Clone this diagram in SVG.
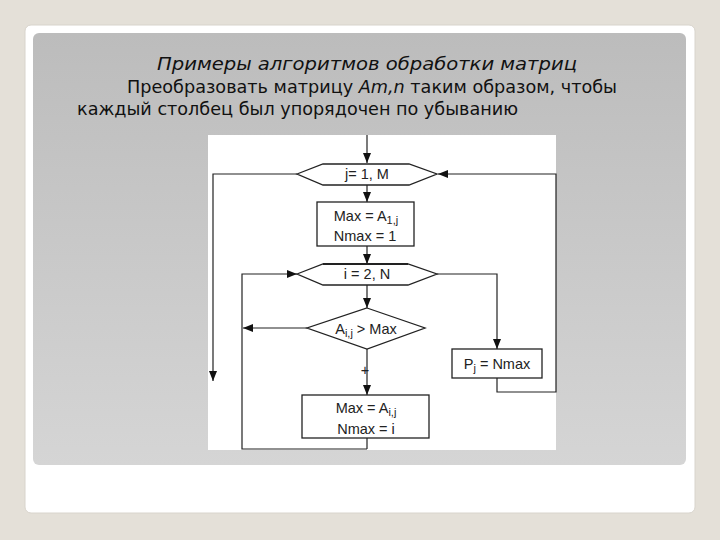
<svg xmlns="http://www.w3.org/2000/svg" width="720" height="540" viewBox="0 0 720 540">
<defs>
<linearGradient id="panel" x1="0" y1="0" x2="0" y2="1">
<stop offset="0" stop-color="#bcbcbc"/>
<stop offset="1" stop-color="#d5d5d5"/>
</linearGradient>
<marker id="arr" viewBox="0 0 10 10" refX="10" refY="5" markerWidth="10" markerHeight="10" markerUnits="userSpaceOnUse" orient="auto">
<path d="M0,1 L10,5 L0,9 Z" fill="#111"/>
</marker>
<style>
.shape{fill:#fff;stroke:#222;stroke-width:1.3}
.ln{fill:none;stroke:#222;stroke-width:1.2}
.t{font-family:"Liberation Sans",Arial,sans-serif;font-size:14.5px;fill:#222;text-anchor:middle}
.s{font-size:11px;fill:#222}
.h{font-family:"DejaVu Sans Condensed","DejaVu Sans",sans-serif;font-size:17px;fill:#111}
</style>
</defs>
<rect width="720" height="540" fill="#e4e0d8"/>
<rect x="25" y="25" width="670" height="488" rx="6" fill="#ffffff" stroke="#d8d4cc"/>
<rect x="33" y="33" width="653" height="432" rx="6" fill="url(#panel)"/>
<text class="h" x="157" y="70" font-style="italic" textLength="420" lengthAdjust="spacingAndGlyphs">Примеры алгоритмов обработки матриц</text>
<text class="h" x="127" y="93" textLength="490" lengthAdjust="spacingAndGlyphs">Преобразовать матрицу <tspan font-style="italic">Am,n</tspan> таким образом, чтобы</text>
<text class="h" x="77" y="115" textLength="441" lengthAdjust="spacingAndGlyphs">каждый столбец был упорядочен по убыванию</text>
<rect x="208" y="135" width="348" height="315" fill="#ffffff"/>
<g id="connectors">
<path class="ln" d="M367,135 V163" marker-end="url(#arr)"/>
<path class="ln" d="M297,174 H213 V381" marker-end="url(#arr)"/>
<path class="ln" d="M497,378 V392 H556 V174 H438" marker-end="url(#arr)"/>
<path class="ln" d="M367,185 V202" marker-end="url(#arr)"/>
<path class="ln" d="M367,246 V264" marker-end="url(#arr)"/>
<path class="ln" d="M367,449 H242 V274 H297" marker-end="url(#arr)"/>
<path class="ln" d="M437,274 H497 V349" marker-end="url(#arr)"/>
<path class="ln" d="M367,285 V308" marker-end="url(#arr)"/>
<path class="ln" d="M307,328 H243" marker-end="url(#arr)"/>
<path class="ln" d="M367,349 V395" marker-end="url(#arr)"/>
<path class="ln" d="M367,438 V449"/>
<text class="t" x="365" y="375" font-size="12">+</text>
</g>
<g id="loop-j">
<polygon class="shape" points="297,174 323,164 409,164 437,174 409,185 323,185"/>
<text class="t" x="367" y="179">j= 1, M</text>
</g>
<g id="init">
<rect class="shape" x="317" y="202" width="97" height="44"/>
<text class="t" x="366" y="221">Max = A<tspan class="s" dy="3">1,j</tspan></text>
<text class="t" x="365" y="241">Nmax = 1</text>
</g>
<g id="loop-i">
<polygon class="shape" points="297,274 323,264 408,264 437,274 408,285 323,285"/>
<line x1="323" y1="264" x2="408" y2="264" stroke="#222" stroke-width="2"/>
<text class="t" x="367" y="279">i = 2, N</text>
</g>
<g id="cond">
<polygon class="shape" points="367,308 425,328 367,349 307,328"/>
<text class="t" x="366" y="334">A<tspan class="s" dy="3">i,j</tspan><tspan dy="-3"> &gt; Max</tspan></text>
</g>
<g id="update">
<rect class="shape" x="302" y="395" width="127" height="43"/>
<text class="t" x="366" y="413">Max = A<tspan class="s" dy="3">i,j</tspan></text>
<text class="t" x="366" y="434">Nmax = i</text>
</g>
<g id="store">
<rect class="shape" x="452" y="349" width="90" height="29"/>
<text class="t" x="497" y="369">P<tspan class="s" dy="3">j</tspan><tspan dy="-3"> = Nmax</tspan></text>
</g>
</svg>
